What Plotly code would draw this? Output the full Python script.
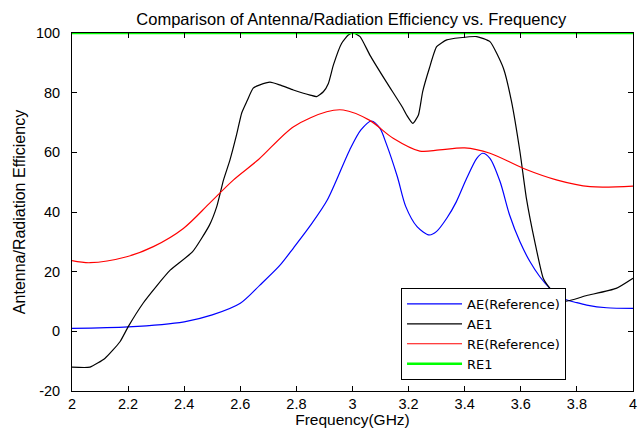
import plotly.graph_objects as go

# ---- data ----
ae_ref_freq = [2.0, 2.2, 2.4, 2.5, 2.6, 2.67, 2.74, 2.79, 2.85, 2.91, 2.99, 3.03, 3.068, 3.098,
               3.12, 3.16, 3.19, 3.23, 3.274, 3.30, 3.336, 3.37, 3.407, 3.443, 3.464, 3.49,
               3.526, 3.56, 3.597, 3.633, 3.668, 3.704, 3.75, 3.80, 3.835, 3.906, 4.0]
ae_ref_vals = [1.0, 1.5, 3.2, 5.5, 9.4, 15.5, 22.0, 28.0, 35.5, 44.0, 60.8, 67.5, 70.5, 68.0,
               63.0, 51.8, 41.8, 35.1, 32.3, 33.5, 37.9, 43.4, 51.3, 58.0, 59.7, 58.0,
               50.2, 39.0, 30.0, 23.3, 18.3, 14.4, 11.0, 9.6, 8.8, 7.9, 7.7]

ae1_freq = [2.0, 2.064, 2.118, 2.171, 2.2, 2.254, 2.30, 2.35, 2.43, 2.49, 2.516, 2.54, 2.563,
            2.587, 2.605, 2.623, 2.646, 2.67, 2.706, 2.74, 2.789, 2.825, 2.849, 2.872, 2.896,
            2.914, 2.932, 2.961, 2.985, 3.003, 3.027, 3.062, 3.12, 3.18, 3.193, 3.215, 3.235,
            3.25, 3.274, 3.30, 3.336, 3.383, 3.443, 3.49, 3.538, 3.567, 3.597, 3.62, 3.65,
            3.68, 3.704, 3.75, 3.835, 3.94, 4.0]
ae1_vals = [-12.0, -12.0, -9.0, -3.5, 1.5, 9.5, 15.0, 20.5, 26.7, 35.6, 41.8, 50.7, 57.4,
            66.0, 73.2, 77.0, 81.5, 82.6, 83.5, 82.6, 80.9, 79.8, 79.2, 78.7, 80.3,
            83.1, 89.3, 96.5, 99.3, 100.0, 98.8, 92.6, 83.7, 74.8, 72.5, 69.7, 72.5,
            80.3, 88.2, 95.4, 97.7, 98.4, 98.8, 97.1, 88.2, 77.0, 60.2, 44.6, 30.0,
            17.8, 14.4, 10.0, 12.0, 14.4, 17.8]

re_ref_freq = [2.0, 2.064, 2.195, 2.29, 2.397, 2.49, 2.575, 2.665, 2.79, 2.908, 2.967, 3.06,
               3.145, 3.24, 3.31, 3.40, 3.49, 3.61, 3.73, 3.847, 4.0]
re_ref_vals = [23.7, 23.0, 25.0, 28.4, 34.5, 42.9, 50.7, 57.6, 68.6, 73.6, 74.2, 70.8,
               64.7, 60.4, 60.8, 61.5, 59.7, 54.6, 50.7, 48.5, 48.7]

re1_freq = [2.0, 4.0]
re1_vals = [100.0, 100.0]

x_tick_vals = [2.0, 2.2, 2.4, 2.6, 2.8, 3.0, 3.2, 3.4, 3.6, 3.8, 4.0]
x_tick_text = ["2", "2.2", "2.4", "2.6", "2.8", "3", "3.2", "3.4", "3.6", "3.8", "4"]
y_tick_vals = [-20, 0, 20, 40, 60, 80, 100]
y_tick_text = ["-20", "0", "20", "40", "60", "80", "100"]

FONT = "Liberation Sans, Arial, sans-serif"
LEG_FONT = "DejaVu Sans, Liberation Sans, sans-serif"

fig = go.Figure()
fig.add_trace(go.Scatter(x=ae_ref_freq, y=ae_ref_vals, mode="lines", name="AE(Reference)",
                         line=dict(color="#0000ff", width=1.2, shape="spline", smoothing=0.8)))
fig.add_trace(go.Scatter(x=ae1_freq, y=ae1_vals, mode="lines", name="AE1",
                         line=dict(color="#000000", width=1.2, shape="spline", smoothing=0.5)))
fig.add_trace(go.Scatter(x=re_ref_freq, y=re_ref_vals, mode="lines", name="RE(Reference)",
                         line=dict(color="#ff0000", width=1.2, shape="spline", smoothing=0.9)))
fig.add_trace(go.Scatter(x=re1_freq, y=re1_vals, mode="lines", name="RE1",
                         line=dict(color="#00ff00", width=2.5)))

axis_common = dict(
    showline=True, linecolor="black", linewidth=1, mirror="ticks",
    ticks="inside", ticklen=5, tickcolor="black", tickwidth=1,
    showgrid=False, zeroline=False, automargin=False,
    tickfont=dict(family=FONT, size=14.5, color="black"),
)

fig.update_layout(
    width=644, height=428,
    margin=dict(l=72, r=11, t=33, b=37, autoexpand=False),
    paper_bgcolor="white", plot_bgcolor="white",
    font=dict(family=FONT, color="black"),
    title=dict(text="Comparison of Antenna/Radiation Efficiency vs. Frequency",
               x=0.5455, xanchor="center", y=1 - 19.5 / 428, yanchor="middle", yref="container",
               font=dict(family=FONT, size=16.5, color="black")),
    xaxis=dict(range=[2, 4], tickvals=x_tick_vals, ticktext=x_tick_text,
               title=dict(text="Frequency(GHz)", standoff=4,
                          font=dict(family=FONT, size=15.5, color="black")),
               **axis_common),
    yaxis=dict(range=[-20, 100], tickvals=y_tick_vals, ticktext=y_tick_text,
               ticklabelstandoff=8,
               title=dict(text="Antenna/Radiation Efficiency", standoff=6,
                          font=dict(family=FONT, size=16, color="black")),
               **axis_common),
    legend=dict(x=0.5865, y=0.2877, xanchor="left", yanchor="top",
                bgcolor="white", bordercolor="black", borderwidth=1,
                itemwidth=55, font=dict(family=LEG_FONT, size=13, color="black"),
                tracegroupgap=0),
    showlegend=True,
)

fig.write_html("out.html", config={"displayModeBar": False},
               post_script="document.body.style.margin='0';document.body.style.padding='0';"
                           "document.documentElement.style.overflow='hidden';")
